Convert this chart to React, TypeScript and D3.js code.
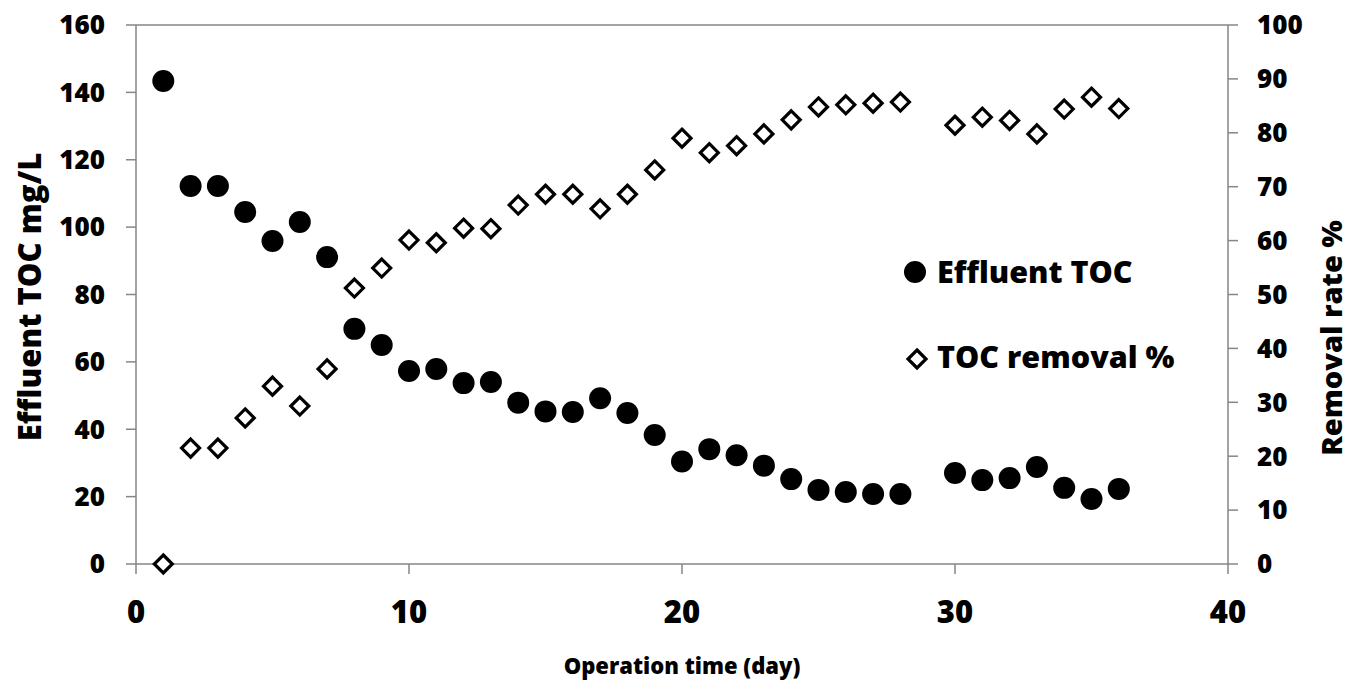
import React from "react";
import * as d3 from "d3";

// Operation day for each sample
const days: number[] = Array.from({ length: 36 }, (_, i) => i + 1);

// Effluent TOC (mg/L); day 29 has no sample
const effluentTOC: (number | null)[] = [
  143.4, 112.2, 112.2, 104.5, 95.9, 101.5, 91.1, 69.8, 65.0, 57.3,
  57.9, 53.7, 54.0, 47.9, 45.3, 45.1, 49.2, 44.8, 38.3, 30.4,
  34.1, 32.3, 29.2, 25.2, 22.0, 21.4, 20.8, 20.8, null, 27.0,
  24.9, 25.5, 28.8, 22.6, 19.3, 22.3,
];

// TOC removal (%)
const tocRemoval: (number | null)[] = [
  0, 21.5, 21.5, 27.1, 33.0, 29.3, 36.2, 51.2, 54.9, 60.1,
  59.6, 62.3, 62.2, 66.6, 68.6, 68.6, 65.9, 68.6, 73.1, 79.0,
  76.3, 77.6, 79.8, 82.4, 84.8, 85.2, 85.5, 85.7, null, 81.4,
  82.9, 82.3, 79.8, 84.4, 86.6, 84.5,
];

const xTicks = [0, 10, 20, 30, 40];
const leftTicks = [0, 20, 40, 60, 80, 100, 120, 140, 160];
const rightTicks = [0, 10, 20, 30, 40, 50, 60, 70, 80, 90, 100];

const W = 1364;
const H = 681;
const left = 136;
const right = 1228;
const top = 25;
const bottom = 564;
const tick = 10;
const axisColor = "#868686";
const font = "'Open Sans', sans-serif";

function Diamond({ cx, cy, r }: { cx: number; cy: number; r: number }) {
  const p = `M${cx},${cy - r}L${cx + r},${cy}L${cx},${cy + r}L${cx - r},${cy}Z`;
  return <path d={p} fill="#fff" stroke="#000" strokeWidth={3.2} strokeLinejoin="miter" />;
}

export default function App() {
  const x = d3.scaleLinear().domain([0, 40]).range([left, right]);
  const yL = d3.scaleLinear().domain([0, 160]).range([bottom, top]);
  const yR = d3.scaleLinear().domain([0, 100]).range([bottom, top]);

  const tocPts = days
    .map((d, i) => ({ d, v: effluentTOC[i] }))
    .filter((p) => p.v !== null) as { d: number; v: number }[];
  const remPts = days
    .map((d, i) => ({ d, v: tocRemoval[i] }))
    .filter((p) => p.v !== null) as { d: number; v: number }[];

  return (
    <svg
      width={W}
      height={H}
      style={{ position: "absolute", left: 0, top: 0, background: "#fff" }}
      fontFamily={font}
      fontWeight={800}
    >
      <rect width={W} height={H} fill="#fff" />

      {/* axis lines */}
      <g stroke={axisColor} strokeWidth={1.5} fill="none">
        <line x1={left} x2={left} y1={top} y2={bottom} />
        <line x1={right} x2={right} y1={top} y2={bottom} />
        <line x1={left} x2={right} y1={bottom} y2={bottom} />
        <line x1={left} x2={right} y1={top} y2={top} />
        {leftTicks.map((t) => (
          <line key={"l" + t} x1={left - tick} x2={left} y1={yL(t)} y2={yL(t)} />
        ))}
        {rightTicks.map((t) => (
          <line key={"r" + t} x1={right} x2={right + tick} y1={yR(t)} y2={yR(t)} />
        ))}
        {xTicks.map((t) => (
          <line key={"x" + t} x1={x(t)} x2={x(t)} y1={bottom} y2={bottom + tick} />
        ))}
      </g>

      {/* tick labels */}
      <g fill="#000" fontSize={26}>
        {leftTicks.map((t) => (
          <text key={"lt" + t} x={105} y={yL(t)} dy="0.36em" textAnchor="end">
            {t}
          </text>
        ))}
        {rightTicks.map((t) => (
          <text key={"rt" + t} x={1257} y={yR(t)} dy="0.36em" textAnchor="start">
            {t}
          </text>
        ))}
      </g>
      <g fill="#000" fontSize={31}>
        {xTicks.map((t) => (
          <text key={"xt" + t} x={x(t)} y={623} textAnchor="middle">
            {t}
          </text>
        ))}
      </g>

      {/* axis titles */}
      <text x={682} y={674} textAnchor="middle" fontSize={22}>
        Operation time (day)
      </text>
      <text
        transform={`translate(41,297) rotate(-90)`}
        textAnchor="middle"
        fontSize={31}
      >
        Effluent TOC mg/L
      </text>
      <text
        transform={`translate(1342,338) rotate(-90)`}
        textAnchor="middle"
        fontSize={29}
      >
        Removal rate %
      </text>

      {/* data: effluent TOC */}
      <g fill="#000">
        {tocPts.map((p) => (
          <circle key={"c" + p.d} cx={x(p.d)} cy={yL(p.v)} r={11} />
        ))}
      </g>
      {/* data: TOC removal */}
      <g>
        {remPts.map((p) => (
          <Diamond key={"dm" + p.d} cx={x(p.d)} cy={yR(p.v)} r={9} />
        ))}
      </g>

      {/* legend */}
      <circle cx={915} cy={272} r={11} fill="#000" />
      <text x={937} y={283} fontSize={30.5}>
        Effluent TOC
      </text>
      <Diamond cx={917} cy={359} r={9} />
      <text x={937} y={368} fontSize={30.5}>
        TOC removal %
      </text>
    </svg>
  );
}
